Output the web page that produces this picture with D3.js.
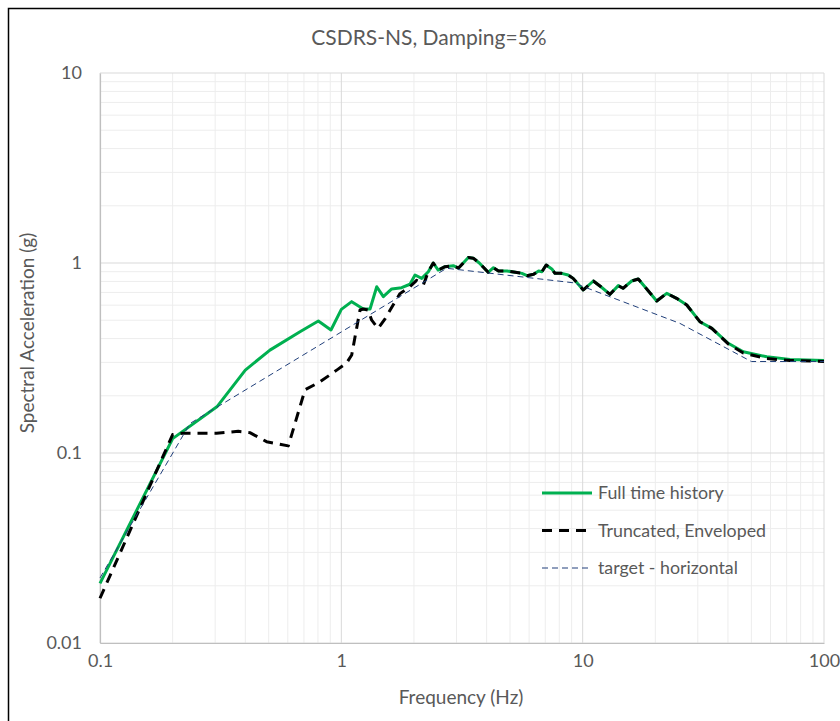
<!DOCTYPE html>
<html>
<head>
<meta charset="utf-8">
<script src="https://cdn.jsdelivr.net/npm/d3@7"></script>
<style>
  html, body { margin: 0; padding: 0; background: #fff; }
  svg { display: block; }
  text { font-family: Lato, "Open Sans", sans-serif; fill: #595959; }
</style>
</head>
<body>
<svg id="chart" width="840" height="721"></svg>
<script>
// Response spectra, 5% damping (frequency in Hz, spectral acceleration in g)
const fullFreq = [0.1, 0.2, 0.305, 0.4, 0.506, 0.674, 0.803, 0.906, 1.0, 1.104, 1.233, 1.315, 1.402, 1.493, 1.617, 1.778, 1.925, 2.02, 2.153, 2.293, 2.404, 2.52, 2.69, 2.91, 3.06, 3.36, 3.52, 3.73, 4.06, 4.27, 4.48, 4.86, 5.26, 5.6, 5.88, 6.26, 6.57, 6.78, 7.06, 7.45, 7.68, 8.18, 8.7, 9.13, 10.06, 11.07, 11.9, 12.98, 14.05, 14.7, 15.96, 17.0, 18.1, 20.27, 22.3, 24.5, 27.0, 30.6, 34.3, 40.1, 46.3, 57.9, 72.3, 100];
const fullSa   = [0.0206, 0.119, 0.175, 0.273, 0.348, 0.435, 0.495, 0.444, 0.57, 0.626, 0.573, 0.573, 0.75, 0.665, 0.73, 0.741, 0.773, 0.865, 0.83, 0.90, 1.0, 0.918, 0.956, 0.968, 0.94, 1.07, 1.06, 1.0, 0.893, 0.945, 0.908, 0.908, 0.893, 0.882, 0.857, 0.872, 0.908, 0.90, 0.976, 0.93, 0.882, 0.882, 0.865, 0.83, 0.721, 0.804, 0.75, 0.684, 0.76, 0.736, 0.804, 0.824, 0.75, 0.631, 0.692, 0.652, 0.601, 0.491, 0.453, 0.378, 0.341, 0.321, 0.311, 0.307];

const truncFreq = [0.1, 0.2, 0.22, 0.304, 0.374, 0.418, 0.49, 0.603, 0.707, 0.816, 0.957, 1.05, 1.104, 1.195, 1.233, 1.29, 1.336, 1.42, 1.52, 1.67, 1.75, 1.925, 2.05, 2.19, 2.293, 2.404, 2.52, 2.69, 2.91, 3.06, 3.36, 3.52, 3.73, 4.06, 4.27, 4.48, 4.86, 5.26, 5.6, 5.88, 6.26, 6.57, 6.78, 7.06, 7.45, 7.68, 8.18, 8.7, 9.13, 10.06, 11.07, 11.9, 12.98, 14.05, 14.7, 15.96, 17.0, 18.1, 20.27, 22.3, 24.5, 27.0, 30.6, 34.3, 40.1, 46.3, 57.9, 72.3, 100];
const truncSa   = [0.0172, 0.125, 0.127, 0.127, 0.13, 0.128, 0.1147, 0.109, 0.215, 0.237, 0.273, 0.297, 0.328, 0.566, 0.573, 0.565, 0.50, 0.453, 0.51, 0.626, 0.69, 0.75, 0.81, 0.77, 0.90, 1.0, 0.918, 0.956, 0.968, 0.94, 1.07, 1.06, 1.0, 0.893, 0.945, 0.908, 0.908, 0.893, 0.882, 0.857, 0.872, 0.908, 0.90, 0.976, 0.93, 0.882, 0.882, 0.865, 0.83, 0.721, 0.804, 0.75, 0.684, 0.76, 0.736, 0.804, 0.824, 0.75, 0.631, 0.692, 0.652, 0.601, 0.491, 0.453, 0.375, 0.336, 0.314, 0.307, 0.303];

const targetFreq = [0.1, 0.236, 2.73, 9.14, 25.3, 50, 100];
const targetSa   = [0.022, 0.143, 0.938, 0.787, 0.481, 0.303, 0.303];

const xTickValues = [0.1, 1, 10, 100];
const xTickLabels = ["0.1", "1", "10", "100"];
const yTickValues = [0.01, 0.1, 1, 10];
const yTickLabels = ["0.01", "0.1", "1", "10"];

const seriesNames = ["Full time history", "Truncated, Enveloped", "target - horizontal"];

const svg = d3.select("#chart");
const plot = { left: 100, right: 824, top: 73, bottom: 643 };

const x = d3.scaleLog().domain([0.1, 100]).range([plot.left, plot.right]);
const y = d3.scaleLog().domain([0.01, 10]).range([plot.bottom, plot.top]);

// outer chart frame
svg.append("rect")
  .attr("x", 8.5).attr("y", 8.5)
  .attr("width", 860).attr("height", 730)
  .attr("fill", "#fff").attr("stroke", "#000").attr("stroke-width", 1.5);

// minor + major gridlines
const minorX = [], minorY = [];
for (let d = 0.1; d < 100; d *= 10) for (let k = 2; k <= 9; k++) minorX.push(d * k);
for (let d = 0.01; d < 10; d *= 10) for (let k = 2; k <= 9; k++) minorY.push(d * k);

const grid = svg.append("g");
grid.selectAll(".mx").data(minorX).join("line")
  .attr("x1", d => x(d)).attr("x2", d => x(d))
  .attr("y1", plot.top).attr("y2", plot.bottom)
  .attr("stroke", "#ededed").attr("stroke-width", 1);
grid.selectAll(".my").data(minorY).join("line")
  .attr("x1", plot.left).attr("x2", plot.right)
  .attr("y1", d => y(d)).attr("y2", d => y(d))
  .attr("stroke", "#ededed").attr("stroke-width", 1);
grid.selectAll(".Mx").data(xTickValues).join("line")
  .attr("x1", d => x(d)).attr("x2", d => x(d))
  .attr("y1", plot.top).attr("y2", plot.bottom)
  .attr("stroke", "#d9d9d9").attr("stroke-width", 1);
grid.selectAll(".My").data(yTickValues).join("line")
  .attr("x1", plot.left).attr("x2", plot.right)
  .attr("y1", d => y(d)).attr("y2", d => y(d))
  .attr("stroke", "#d9d9d9").attr("stroke-width", 1);

// axes
const xAxis = d3.axisBottom(x).tickValues(xTickValues)
  .tickFormat((d, i) => xTickLabels[i]).tickSize(0).tickPadding(11);
const yAxis = d3.axisLeft(y).tickValues(yTickValues)
  .tickFormat((d, i) => yTickLabels[i]).tickSize(0).tickPadding(18);

const gx = svg.append("g").attr("transform", `translate(0,${plot.bottom})`).call(xAxis);
const gy = svg.append("g").attr("transform", `translate(${plot.left},0)`).call(yAxis);
[gx, gy].forEach(g => {
  g.select(".domain").attr("stroke", "#bfbfbf").attr("stroke-width", 1.2);
  g.selectAll("text").style("font-size", "18px").attr("fill", "#595959")
    .style("font-family", "Lato, 'Open Sans', sans-serif");
});

// series lines
const line = d3.line().x(d => x(d[0])).y(d => y(d[1]));
const full = fullFreq.map((f, i) => [f, fullSa[i]]);
const trunc = truncFreq.map((f, i) => [f, truncSa[i]]);
const target = targetFreq.map((f, i) => [f, targetSa[i]]);

svg.append("path").datum(full).attr("d", line)
  .attr("fill", "none").attr("stroke", "#00b050").attr("stroke-width", 3)
  .attr("stroke-linejoin", "round");
svg.append("path").datum(trunc).attr("d", line)
  .attr("fill", "none").attr("stroke", "#000").attr("stroke-width", 3)
  .attr("stroke-dasharray", "10,7").attr("stroke-linejoin", "round");
svg.append("path").datum(target).attr("d", line)
  .attr("fill", "none").attr("stroke", "#203f7a").attr("stroke-width", 1)
  .attr("stroke-dasharray", "6,4");

// titles
svg.append("text").attr("x", 429).attr("y", 45).attr("text-anchor", "middle")
  .style("font-size", "21px").text("CSDRS-NS, Damping=5%");
svg.append("text").attr("x", 461).attr("y", 704).attr("text-anchor", "middle")
  .style("font-size", "19px").text("Frequency (Hz)");
svg.append("text").attr("transform", "translate(34,333) rotate(-90)")
  .attr("text-anchor", "middle").style("font-size", "19px")
  .text("Spectral Acceleration (g)");

// legend
const legendStyles = [
  { stroke: "#00b050", width: 3, dash: null },
  { stroke: "#000", width: 3, dash: "10,7" },
  { stroke: "#203f7a", width: 1, dash: "6,4" }
];
const lg = svg.append("g");
seriesNames.forEach((name, i) => {
  const yy = 493 + i * 37.5;
  lg.append("line").attr("x1", 542).attr("x2", 592).attr("y1", yy).attr("y2", yy)
    .attr("stroke", legendStyles[i].stroke).attr("stroke-width", legendStyles[i].width)
    .attr("stroke-dasharray", legendStyles[i].dash);
  lg.append("text").attr("x", 598).attr("y", yy + 6)
    .style("font-size", "17.8px").text(name);
});
</script>
</body>
</html>
